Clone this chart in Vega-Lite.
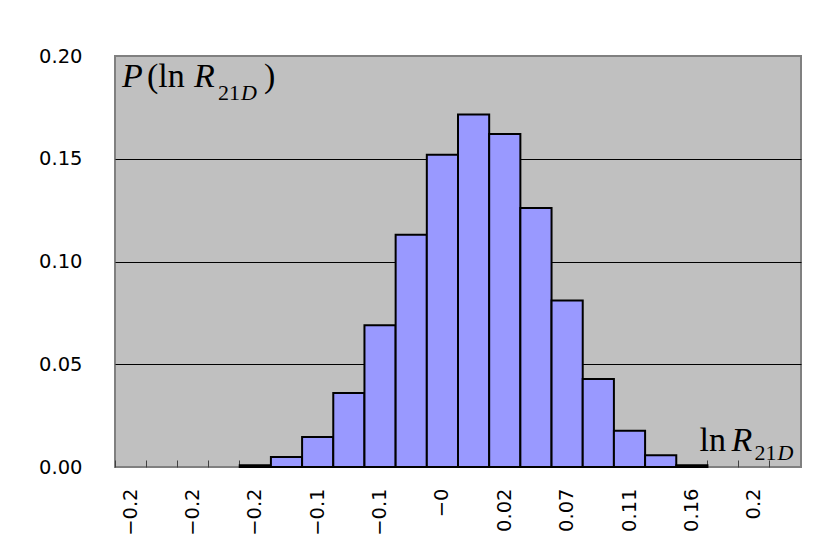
{
  "$schema": "https://vega.github.io/schema/vega-lite/v6.json",
  "width": 686,
  "height": 411,
  "autosize": {"type": "none"},
  "padding": {"left": 115, "top": 56, "right": 14, "bottom": 93},
  "background": "white",
  "config": {
    "view": {"fill": "#C0C0C0", "stroke": "#808080", "strokeWidth": 2},
    "axis": {"labelFont": "DejaVu Sans", "labelFontSize": 19.5, "labelColor": "black"}
  },
  "datasets": {
    "hist": [
      {"bin": 0, "p": 0},
      {"bin": 1, "p": 0},
      {"bin": 2, "p": 0},
      {"bin": 3, "p": 0},
      {"bin": 4, "p": 0.0008},
      {"bin": 5, "p": 0.0049},
      {"bin": 6, "p": 0.0146},
      {"bin": 7, "p": 0.036},
      {"bin": 8, "p": 0.069},
      {"bin": 9, "p": 0.113},
      {"bin": 10, "p": 0.152},
      {"bin": 11, "p": 0.1715},
      {"bin": 12, "p": 0.162},
      {"bin": 13, "p": 0.126},
      {"bin": 14, "p": 0.081},
      {"bin": 15, "p": 0.0428},
      {"bin": 16, "p": 0.0177},
      {"bin": 17, "p": 0.0057},
      {"bin": 18, "p": 0.0008},
      {"bin": 19, "p": 0},
      {"bin": 20, "p": 0},
      {"bin": 21, "p": 0}
    ]
  },
  "layer": [
    {
      "data": {"name": "hist"},
      "transform": [{"filter": "datum.p > 0"}],
      "mark": {"type": "bar", "fill": "#9999FF", "stroke": "black", "strokeWidth": 2},
      "encoding": {
        "x": {
          "field": "bin",
          "type": "ordinal",
          "scale": {"domain": [0,1,2,3,4,5,6,7,8,9,10,11,12,13,14,15,16,17,18,19,20,21], "paddingInner": 0, "paddingOuter": 0},
          "axis": {
            "title": null,
            "labelExpr": "['−0.2','','−0.2','','−0.2','','−0.1','','−0.1','','−0','','0.02','','0.07','','0.11','','0.16','','0.2',''][datum.value]",
            "labelAngle": -90,
            "bandPosition": 0,
            "ticks": true,
            "tickSize": -7,
            "tickColor": "#404040",
            "tickWidth": 1,
            "domain": false,
            "grid": false,
            "labelPadding": 28
          }
        },
        "y": {
          "field": "p",
          "type": "quantitative",
          "scale": {"domain": [0, 0.2], "nice": false, "zero": true},
          "axis": {
            "title": null,
            "values": [0, 0.05, 0.1, 0.15, 0.2],
            "format": ".2f",
            "ticks": false,
            "domain": false,
            "labelPadding": 33,
            "grid": true,
            "gridColor": {"condition": {"test": "datum.value <= 0 || datum.value >= 0.2", "value": "transparent"}, "value": "black"},
            "gridWidth": 1
          }
        }
      }
    },
    {
      "data": {"values": [{"t": "P", "bin": 0, "p": 0.1848}]},
      "mark": {"type": "text", "font": "Liberation Serif", "fontSize": 34, "fontStyle": "italic", "align": "left", "baseline": "alphabetic", "dx": 7, "color": "black"},
      "encoding": {"x": {"field": "bin", "type": "ordinal", "bandPosition": 0}, "y": {"field": "p", "type": "quantitative"}, "text": {"field": "t"}}
    },
    {
      "data": {"values": [{"t": "(ln", "bin": 0, "p": 0.1848}]},
      "mark": {"type": "text", "font": "Liberation Serif", "fontSize": 34, "align": "left", "baseline": "alphabetic", "dx": 32, "color": "black"},
      "encoding": {"x": {"field": "bin", "type": "ordinal", "bandPosition": 0}, "y": {"field": "p", "type": "quantitative"}, "text": {"field": "t"}}
    },
    {
      "data": {"values": [{"t": "R", "bin": 0, "p": 0.1848}]},
      "mark": {"type": "text", "font": "Liberation Serif", "fontSize": 34, "fontStyle": "italic", "align": "left", "baseline": "alphabetic", "dx": 79, "color": "black"},
      "encoding": {"x": {"field": "bin", "type": "ordinal", "bandPosition": 0}, "y": {"field": "p", "type": "quantitative"}, "text": {"field": "t"}}
    },
    {
      "data": {"values": [{"t": "21", "bin": 0, "p": 0.1848}]},
      "mark": {"type": "text", "font": "Liberation Serif", "fontSize": 22, "align": "left", "baseline": "alphabetic", "dx": 103, "dy": 13, "color": "black"},
      "encoding": {"x": {"field": "bin", "type": "ordinal", "bandPosition": 0}, "y": {"field": "p", "type": "quantitative"}, "text": {"field": "t"}}
    },
    {
      "data": {"values": [{"t": "D", "bin": 0, "p": 0.1848}]},
      "mark": {"type": "text", "font": "Liberation Serif", "fontSize": 22, "fontStyle": "italic", "align": "left", "baseline": "alphabetic", "dx": 126, "dy": 13, "color": "black"},
      "encoding": {"x": {"field": "bin", "type": "ordinal", "bandPosition": 0}, "y": {"field": "p", "type": "quantitative"}, "text": {"field": "t"}}
    },
    {
      "data": {"values": [{"t": ")", "bin": 0, "p": 0.1848}]},
      "mark": {"type": "text", "font": "Liberation Serif", "fontSize": 34, "align": "left", "baseline": "alphabetic", "dx": 149, "color": "black"},
      "encoding": {"x": {"field": "bin", "type": "ordinal", "bandPosition": 0}, "y": {"field": "p", "type": "quantitative"}, "text": {"field": "t"}}
    },
    {
      "data": {"values": [{"t": "ln", "bin": 19, "p": 0.0076}]},
      "mark": {"type": "text", "font": "Liberation Serif", "fontSize": 34, "align": "left", "baseline": "alphabetic", "dx": -8, "color": "black"},
      "encoding": {"x": {"field": "bin", "type": "ordinal", "bandPosition": 0}, "y": {"field": "p", "type": "quantitative"}, "text": {"field": "t"}}
    },
    {
      "data": {"values": [{"t": "R", "bin": 19, "p": 0.0076}]},
      "mark": {"type": "text", "font": "Liberation Serif", "fontSize": 34, "fontStyle": "italic", "align": "left", "baseline": "alphabetic", "dx": 24, "color": "black"},
      "encoding": {"x": {"field": "bin", "type": "ordinal", "bandPosition": 0}, "y": {"field": "p", "type": "quantitative"}, "text": {"field": "t"}}
    },
    {
      "data": {"values": [{"t": "21", "bin": 19, "p": 0.0076}]},
      "mark": {"type": "text", "font": "Liberation Serif", "fontSize": 22, "align": "left", "baseline": "alphabetic", "dx": 47, "dy": 9, "color": "black"},
      "encoding": {"x": {"field": "bin", "type": "ordinal", "bandPosition": 0}, "y": {"field": "p", "type": "quantitative"}, "text": {"field": "t"}}
    },
    {
      "data": {"values": [{"t": "D", "bin": 19, "p": 0.0076}]},
      "mark": {"type": "text", "font": "Liberation Serif", "fontSize": 22, "fontStyle": "italic", "align": "left", "baseline": "alphabetic", "dx": 70, "dy": 9, "color": "black"},
      "encoding": {"x": {"field": "bin", "type": "ordinal", "bandPosition": 0}, "y": {"field": "p", "type": "quantitative"}, "text": {"field": "t"}}
    }
  ]
}
